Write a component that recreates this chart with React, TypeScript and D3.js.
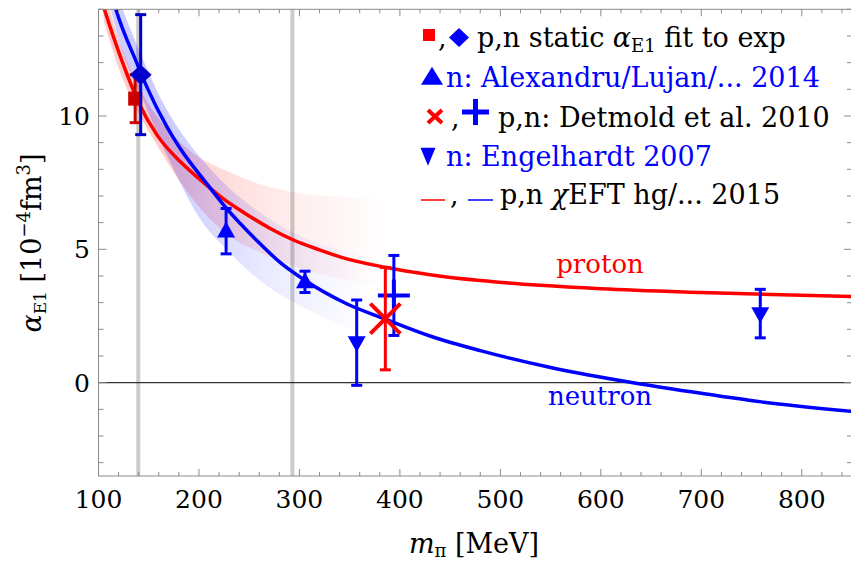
import React from 'react';
import * as d3 from 'd3';

const W = 851;
const H = 565;
const FONT = '"DejaVu Serif", serif';

// axis settings
const xDomain = [100, 850];
const yDomain = [-3.5, 14];
const xMajorTicks = [100, 200, 300, 400, 500, 600, 700, 800];
const yMajorTicks = [0, 5, 10];

// chiral EFT central curves
const protonM = [100, 105, 123, 140, 158, 181, 200, 224, 248, 270, 294, 320, 341, 385, 430, 480, 540, 600, 700, 850];
const protonV = [14.7, 14.1, 12.1, 10.5, 9.3, 8.3, 7.65, 6.9, 6.3, 5.8, 5.35, 4.98, 4.71, 4.33, 4.05, 3.83, 3.65, 3.52, 3.38, 3.23];
const neutronM = [110, 116.5, 138, 148, 168, 181, 207, 227, 257, 281, 305, 347, 385, 430, 480, 550, 635, 700, 760, 850];
const neutronV = [15.0, 14.1, 12.0, 11.1, 9.6, 8.8, 7.5, 6.55, 5.35, 4.5, 3.85, 2.96, 2.39, 1.75, 1.2, 0.57, -0.02, -0.4, -0.72, -1.08];

// uncertainty bands
const redBandM = [105, 120, 140, 160, 180, 200, 230, 260, 300, 340, 380, 420];
const redBandHi = [14.8, 12.9, 11.1, 9.9, 9.05, 8.45, 7.9, 7.45, 7.1, 6.97, 6.9, 6.85];
const redBandLo = [13.6, 11.8, 10.1, 8.8, 7.6, 6.6, 5.5, 4.9, 4.3, 3.9, 3.6, 3.45];
const blueBandM = [112, 125, 140, 160, 180, 200, 230, 260, 300, 340, 380];
const blueBandHi = [15.2, 13.9, 12.5, 10.8, 9.5, 8.5, 7.3, 6.4, 5.5, 5.0, 4.6];
const blueBandLo = [14.0, 12.3, 11.0, 9.2, 7.6, 6.2, 4.9, 3.85, 2.9, 2.2, 1.7];

// physical pion mass and second marker line
const grayLinesM = [139.57, 293];

// data points
const squareP = { m: 136.5, v: 10.65, e: 0.9 };
const diamondN = { m: 142, v: 11.55, e: 2.25 };
const alexM = [227, 305.5];
const alexV = [5.68, 3.78];
const alexE = [0.85, 0.4];
const engelM = [357, 758.7];
const engelV = [1.5, 2.59];
const engelE = [1.6, 0.91];
const detmoldP = { m: 385.5, v: 2.4, e: 1.92 };
const detmoldN = { m: 394, v: 3.27, e: 1.5 };

const RED = '#ff0000';
const DARKRED = '#cc0000';
const BLUE = '#0000ff';
const DARKBLUE = '#0000cc';

const x = d3.scaleLinear().domain(xDomain).range([98.5, 852]);
const y = d3.scaleLinear().domain(yDomain).range([476, 9.3]);

const line = d3.line<[number, number]>()
  .x((d) => x(d[0]))
  .y((d) => y(d[1]))
  .curve(d3.curveMonotoneX);

const area = d3.area<[number, number, number]>()
  .x((d) => x(d[0]))
  .y0((d) => y(d[2]))
  .y1((d) => y(d[1]))
  .curve(d3.curveMonotoneX);

function ErrBar({ m, v, e, color }: { m: number; v: number; e: number; color: string }) {
  const cx = x(m);
  return (
    <g stroke={color} strokeWidth={3}>
      <line x1={cx} x2={cx} y1={y(v - e)} y2={y(v + e)} />
      <line x1={cx - 5.5} x2={cx + 5.5} y1={y(v - e)} y2={y(v - e)} />
      <line x1={cx - 5.5} x2={cx + 5.5} y1={y(v + e)} y2={y(v + e)} />
    </g>
  );
}

function tri(cx: number, cy: number, w: number, h: number, down = false) {
  const s = down ? -1 : 1;
  return `M${cx},${cy - s * h * 0.6} L${cx + w / 2},${cy + s * h * 0.4} L${cx - w / 2},${cy + s * h * 0.4} Z`;
}

export default function App() {
  const xMinor = d3.range(100, 851, 20);
  const yMinor = d3.range(-3, 14.01, 1);
  const x0 = x(xDomain[0]);
  const x1 = x(xDomain[1]);
  const y0 = y(yDomain[0]);
  const y1 = y(yDomain[1]);

  const protonPts = protonM.map((m, i) => [m, protonV[i]] as [number, number]);
  const neutronPts = neutronM.map((m, i) => [m, neutronV[i]] as [number, number]);
  const redBand = redBandM.map((m, i) => [m, redBandHi[i], redBandLo[i]] as [number, number, number]);
  const blueBand = blueBandM.map((m, i) => [m, blueBandHi[i], blueBandLo[i]] as [number, number, number]);

  const axisColor = '#8a8a8a';

  return (
    <svg width={W} height={H} style={{ position: 'absolute', left: 0, top: 0, background: '#fff' }} fontFamily={FONT}>
      <defs>
        <clipPath id="plot">
          <rect x={x0} y={y1} width={x1 - x0} height={y0 - y1} />
        </clipPath>
        <linearGradient id="redFade" gradientUnits="userSpaceOnUse" x1={x(170)} x2={x(390)} y1={0} y2={0}>
          <stop offset="0" stopColor={RED} stopOpacity={0.2} />
          <stop offset="0.5" stopColor={RED} stopOpacity={0.08} />
          <stop offset="1" stopColor={RED} stopOpacity={0} />
        </linearGradient>
        <linearGradient id="blueFade" gradientUnits="userSpaceOnUse" x1={x(170)} x2={x(370)} y1={0} y2={0}>
          <stop offset="0" stopColor={BLUE} stopOpacity={0.2} />
          <stop offset="0.5" stopColor={BLUE} stopOpacity={0.08} />
          <stop offset="1" stopColor={BLUE} stopOpacity={0} />
        </linearGradient>
      </defs>

      {/* gray vertical lines */}
      {grayLinesM.map((m) => (
        <line key={m} x1={x(m)} x2={x(m)} y1={y1} y2={y0} stroke="#cccccc" strokeWidth={4} />
      ))}

      {/* zero line */}
      <line x1={x0} x2={x1} y1={y(0)} y2={y(0)} stroke="#333" strokeWidth={1.2} />

      <g clipPath="url(#plot)">
        <path d={area(redBand) || ''} fill="url(#redFade)" />
        <path d={area(blueBand) || ''} fill="url(#blueFade)" />
        <path d={line(protonPts) || ''} fill="none" stroke={RED} strokeWidth={3.5} />
        <path d={line(neutronPts) || ''} fill="none" stroke={BLUE} strokeWidth={3.5} />
      </g>

      {/* frame */}
      <rect x={x0} y={y1} width={x1 - x0} height={y0 - y1} fill="none" stroke={axisColor} strokeWidth={1} />
      {xMinor.map((m) => {
        const major = m % 100 === 0;
        const len = major ? 7 : 4;
        return (
          <g key={'xt' + m} stroke={axisColor} strokeWidth={1}>
            <line x1={x(m)} x2={x(m)} y1={y0} y2={y0 - len} />
            <line x1={x(m)} x2={x(m)} y1={y1} y2={y1 + len} />
          </g>
        );
      })}
      {yMinor.map((v) => {
        const major = Math.abs(v % 5) < 1e-9;
        const len = major ? 8 : 5;
        return (
          <g key={'yt' + v} stroke={axisColor} strokeWidth={1}>
            <line x1={x0} x2={x0 + len} y1={y(v)} y2={y(v)} />
            <line x1={x1} x2={x1 - len} y1={y(v)} y2={y(v)} />
          </g>
        );
      })}
      {xMajorTicks.map((m) => (
        <text key={'xl' + m} x={x(m)} y={508} textAnchor="middle" fontSize={25} fill="#000">{m}</text>
      ))}
      {yMajorTicks.map((v) => (
        <text key={'yl' + v} x={90} y={y(v) + 9} textAnchor="end" fontSize={25} fill="#000">{v}</text>
      ))}

      {/* axis titles */}
      <text x={474} y={553} textAnchor="middle" fontSize={27} fill="#000">
        <tspan fontStyle="italic">m</tspan>
        <tspan fontSize={18} dy={4}>π</tspan>
        <tspan dy={-4}> [MeV]</tspan>
      </text>
      <g transform="translate(41,243) rotate(-90)">
        <text x={0} y={0} textAnchor="middle" fontSize={27} fill="#000">
          <tspan fontStyle="italic">α</tspan>
          <tspan fontSize={17} dy={5}>E1</tspan>
          <tspan dy={-5}> [10</tspan>
          <tspan fontSize={18} dy={-11}>−4</tspan>
          <tspan dy={11}>fm</tspan>
          <tspan fontSize={18} dy={-11}>3</tspan>
          <tspan dy={11}>]</tspan>
        </text>
      </g>

      {/* curve labels */}
      <text x={600} y={273} textAnchor="middle" fontSize={26} fill={RED}>proton</text>
      <text x={600} y={405} textAnchor="middle" fontSize={26} fill={BLUE}>neutron</text>

      {/* data points */}
      <ErrBar {...squareP} color={DARKRED} />
      <rect x={x(squareP.m) - 7} y={y(squareP.v) - 7} width={14} height={14} fill={DARKRED} />
      <ErrBar {...diamondN} color={DARKBLUE} />
      <path d={`M${x(diamondN.m)},${y(diamondN.v) - 10} L${x(diamondN.m) + 11},${y(diamondN.v)} L${x(diamondN.m)},${y(diamondN.v) + 10} L${x(diamondN.m) - 11},${y(diamondN.v)} Z`} fill={DARKBLUE} />

      {alexM.map((m, i) => (
        <g key={'al' + i}>
          <ErrBar m={m} v={alexV[i]} e={alexE[i]} color={BLUE} />
          <path d={tri(x(m), y(alexV[i]), 18, 16)} fill={BLUE} />
        </g>
      ))}
      {engelM.map((m, i) => (
        <g key={'en' + i}>
          <ErrBar m={m} v={engelV[i]} e={engelE[i]} color={BLUE} />
          <path d={tri(x(m), y(engelV[i]), 18, 16, true)} fill={BLUE} />
        </g>
      ))}
      <ErrBar {...detmoldN} color={BLUE} />
      <g stroke={BLUE} strokeWidth={4}>
        <line x1={x(detmoldN.m) - 16} x2={x(detmoldN.m) + 16} y1={y(detmoldN.v)} y2={y(detmoldN.v)} />
        <line x1={x(detmoldN.m)} x2={x(detmoldN.m)} y1={y(detmoldN.v) - 16} y2={y(detmoldN.v) + 16} />
      </g>
      <ErrBar {...detmoldP} color={RED} />
      <g stroke={RED} strokeWidth={4}>
        <line x1={x(detmoldP.m) - 15} x2={x(detmoldP.m) + 15} y1={y(detmoldP.v) - 15} y2={y(detmoldP.v) + 15} />
        <line x1={x(detmoldP.m) - 15} x2={x(detmoldP.m) + 15} y1={y(detmoldP.v) + 15} y2={y(detmoldP.v) - 15} />
      </g>

      {/* legend */}
      <g fontSize={27}>
        <rect x={423} y={29} width={12} height={12} fill={RED} />
        <text x={438} y={47} fill="#000">,</text>
        <path d="M459,28 L469,37.5 L459,47 L449,37.5 Z" fill={BLUE} />
        <text x={477} y={47} fill="#000">
          p,n static <tspan fontStyle="italic">α</tspan>
          <tspan fontSize={18} dy={5}>E1</tspan>
          <tspan dy={-5}> fit to exp</tspan>
        </text>

        <path d={tri(432, 77.5, 22, 18)} fill={BLUE} />
        <text x={446} y={87} fill={BLUE}>n: Alexandru/Lujan/... 2014</text>

        <g stroke={RED} strokeWidth={4}>
          <line x1={428} x2={442} y1={110} y2={123} />
          <line x1={428} x2={442} y1={123} y2={110} />
        </g>
        <text x={451} y={127} fill="#000">,</text>
        <g stroke={BLUE} strokeWidth={5}>
          <line x1={462} x2={489} y1={112} y2={112} />
          <line x1={475.5} x2={475.5} y1={99} y2={125} />
        </g>
        <text x={498} y={127} fill="#000">p,n: Detmold et al. 2010</text>

        <path d={tri(428, 155, 15, 18, true)} fill={BLUE} />
        <text x={446} y={166} fill={BLUE}>n: Engelhardt 2007</text>

        <line x1={421} x2={445} y1={200} y2={200} stroke={RED} strokeWidth={1.5} />
        <text x={450} y={204} fill="#000">,</text>
        <line x1={468} x2={493} y1={200} y2={200} stroke={BLUE} strokeWidth={1.5} />
        <text x={500} y={204} fill="#000">
          p,n <tspan fontStyle="italic">χ</tspan>EFT hg/... 2015
        </text>
      </g>
    </svg>
  );
}
